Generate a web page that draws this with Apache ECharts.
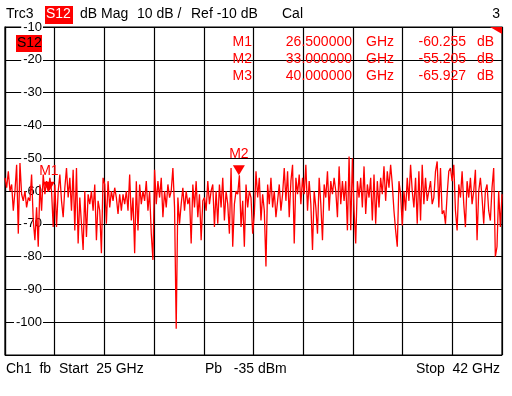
<!DOCTYPE html>
<html><head><meta charset="utf-8">
<script src="https://cdn.jsdelivr.net/npm/echarts@6/dist/echarts.min.js"></script>
<style>html,body{margin:0;padding:0;background:#fff}#c{width:512px;height:396px}</style>
</head><body><div id="c"></div>
<script>
// Sweep settings
const startGHz = 25;
const stopGHz = 42;
const yMin = -110, yMax = -10, yStep = 10;
const xDivisions = 10;

// S12 trace (dB), evenly spaced sweep points
const s12 = [
-56,-59,-54,-60,-58,-66,-60,-52,-73,-51.5,
-61,-63,-60,-65,-62,-63,-55,-69,-75,-65,
-77,-58,-66,-55,-61,-57,-60.255,-56,-60,-71,
-58,-71,-60,-55,-63,-68,-59,-53,-62,-56,
-66,-53.5,-72,-53,-76,-62,-70,-78,-60,-74,
-61,-64,-60,-66,-58,-75,-63,-66,-79,-56,
-58,-70,-57,-65,-60,-63,-59,-62,-67,-61,
-66,-61,-64,-60,-66,-55,-69,-62,-79,-57,
-72,-58,-64,-60,-63,-57,-66,-60,-73,-81,
-53.5,-64,-57,-62,-56,-68,-60,-65,-58,-62,
-60,-53,-65,-102,-62,-70,-64,-59,-66,-60,
-64,-62,-76,-58,-65,-57,-68,-61,-75,-63,
-62,-66,-57,-64,-60,-58,-71,-60,-70,-58,
-65,-56,-69,-60,-64,-73,-53,-77,-64,-60,
-61,-55.205,-71,-63,-77,-58,-65,-60,-62,-73,
-67,-54,-62,-56,-69,-61,-66,-83,-58,-64,
-56,-65,-60,-68,-63,-58,-66,-61,-53,-63,
-54,-68,-57,-52,-76,-56,-61,-55,-64,-56,
-61,-52,-66,-57,-64,-78,-60,-65,-73,-56,
-64,-75,-58,-62,-54,-66,-57,-61,-56,-60,
-68,-52.5,-64,-57,-63,-57,-72,-49.5,-72,-50,
-66,-76,-57,-62,-56,-65,-52.5,-67,-58,-62,
-56,-69,-55,-70,-57,-65,-56,-61,-52.5,-63,
-54,-59,-52,-58,-66,-72,-77,-57,-61,-70.5,
-60,-66,-56,-63,-52,-60,-65,-56,-70,-54,
-69,-52,-64,-56,-63,-60,-57,-64,-62,-54,
-51,-65,-53,-67,-65.927,-70,-61,-54,-53,-57,
-52,-66,-72,-58,-62,-54,-64,-71,-57,-62,
-56,-64,-60,-53.5,-75,-60,-56,-62,-70,-60,
-58,-66,-69,-59,-53,-80,-77,-60,-71,-61
];

// Markers
const markerNames = ['M1', 'M2', 'M3'];
const markerFreqs = [26.5, 33.0, 40.0];
const markerValues = [-60.255, -55.205, -65.927];
const markerVisible = [true, true, false];

// Header / footer texts
const headerItems = [
  {text: 'Trc3', x: 6},
  {text: 'dB Mag', x: 80},
  {text: '10 dB /', x: 137},
  {text: 'Ref -10 dB', x: 191},
  {text: 'Cal', x: 282}
];
const footerLeft = 'Ch1  fb  Start  25 GHz';
const footerMid = 'Pb   -35 dBm';
const footerRight = 'Stop  42 GHz';

const n = s12.length;
const traceData = s12.map((v, i) => [startGHz + i * (stopGHz - startGHz) / (n - 1), v]);

const FONT = '"Liberation Sans", Arial, sans-serif';

const graphics = [];
headerItems.forEach(h => graphics.push({type: 'text', left: h.x, top: 7,
  style: {text: h.text, font: '14px ' + FONT, fill: '#000'}}));
graphics.push({type: 'rect', shape: {x: 45, y: 6, width: 28, height: 18}, style: {fill: '#ff0000'}});
graphics.push({type: 'text', left: 46, top: 7, style: {text: 'S12', font: '14px ' + FONT, fill: '#fff'}});
graphics.push({type: 'text', right: 12, top: 7, style: {text: '3', font: '14px ' + FONT, fill: '#000'}});
// S12 trace tag in plot
graphics.push({type: 'rect', shape: {x: 16, y: 35, width: 26, height: 17}, style: {fill: '#ff0000'}, z: 10});
graphics.push({type: 'text', left: 17, top: 36, z: 11, style: {text: 'S12', font: '14px ' + FONT, fill: '#000'}});
// corner flag
graphics.push({type: 'polygon', shape: {points: [[490, 27], [502, 27], [502, 34]]}, style: {fill: '#ff0000'}, z: 10});
// marker table
markerNames.forEach((m, i) => {
  const y = 35 + i * 17;
  const f = markerFreqs[i].toFixed(6);
  const v = markerValues[i].toFixed(3);
  const st = {font: '14px ' + FONT, fill: '#ff0000', textAlign: 'right'};
  graphics.push({type: 'text', x: 252, y: y, z: 10, style: Object.assign({text: m}, st)});
  graphics.push({type: 'text', x: 352, y: y, z: 10, style: Object.assign({text: f}, st)});
  graphics.push({type: 'text', x: 366, y: y, z: 10, style: {text: 'GHz', font: '14px ' + FONT, fill: '#ff0000'}});
  graphics.push({type: 'text', x: 466, y: y, z: 10, style: Object.assign({text: v}, st)});
  graphics.push({type: 'text', x: 477, y: y, z: 10, style: {text: 'dB', font: '14px ' + FONT, fill: '#ff0000'}});
});
// footer
graphics.push({type: 'text', left: 6, top: 362, style: {text: footerLeft, font: '14px ' + FONT, fill: '#000'}});
graphics.push({type: 'text', left: 205, top: 362, style: {text: footerMid, font: '14px ' + FONT, fill: '#000'}});
graphics.push({type: 'text', right: 12, top: 362, style: {text: footerRight, font: '14px ' + FONT, fill: '#000'}});

const chart = echarts.init(document.getElementById('c'), null, {renderer: 'canvas'});
chart.setOption({
  animation: false,
  backgroundColor: '#fff',
  grid: {left: 5, right: 10, top: 27, bottom: 41, show: true, borderColor: '#000', borderWidth: 1.2},
  xAxis: [
    {type: 'value', min: startGHz, max: stopGHz, show: false},
    {type: 'value', min: 0, max: xDivisions, interval: 1, position: 'bottom',
     axisLine: {show: false}, axisTick: {show: false}, axisLabel: {show: false},
     splitLine: {show: true, lineStyle: {color: '#000', width: 1.2}}}
  ],
  yAxis: {
    type: 'value', min: yMin, max: yMax, interval: yStep,
    axisLine: {show: true, lineStyle: {color: '#000', width: 1.2}},
    axisTick: {show: false},
    splitLine: {show: true, lineStyle: {color: '#000', width: 1.2}},
    axisLabel: {inside: true, margin: 38, align: 'right', color: '#000', fontSize: 13,
      fontFamily: FONT, backgroundColor: '#fff', padding: [0, 1, 0, 2],
      formatter: v => (v === yMin ? '' : String(v))}
  },
  series: [
    {type: 'scatter', xAxisIndex: 0, z: 1,
     data: markerFreqs.map((f, i) => ({value: [f, markerValues[i]],
       symbolSize: markerVisible[i] ? [12, 10] : 0,
       label: {show: markerVisible[i]}})),
     symbol: 'path://M0,0L12,0L6,10Z', symbolOffset: [0, -5],
     itemStyle: {color: '#ff0000', opacity: 1},
     label: {show: true, position: 'top', distance: 4, color: '#ff0000', fontSize: 14, fontFamily: FONT,
       formatter: p => markerNames[p.dataIndex]}},
    {type: 'line', xAxisIndex: 0, data: traceData, showSymbol: false, z: 2,
     lineStyle: {color: '#ff0000', width: 1.3}, itemStyle: {color: '#ff0000'}}
  ],
  graphic: graphics
});
</script></body></html>
